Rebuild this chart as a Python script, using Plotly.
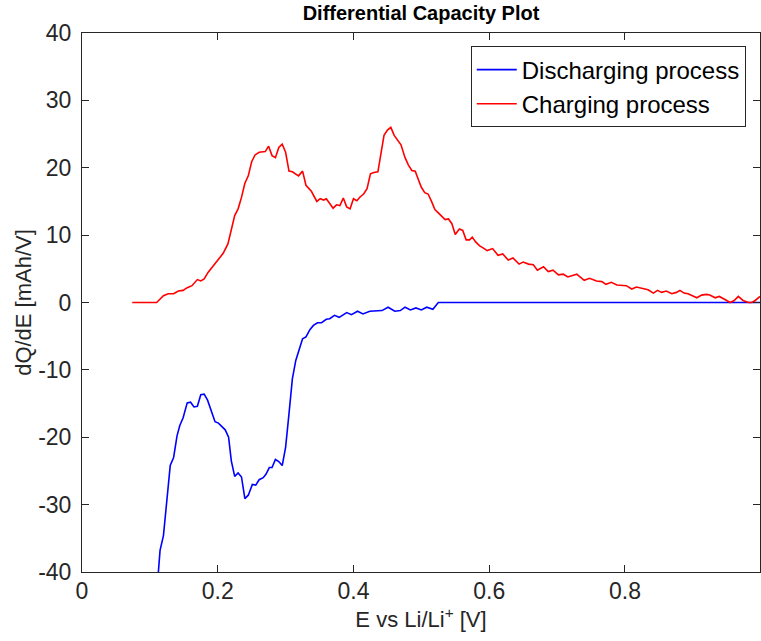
import plotly.graph_objects as go

# Charging process (red)
charge_E = [0.074, 0.110, 0.120, 0.127, 0.135, 0.142, 0.149, 0.155, 0.162, 0.170, 0.175, 0.180,
            0.186, 0.196, 0.208, 0.215, 0.220, 0.225, 0.230, 0.235, 0.240, 0.245, 0.250, 0.255,
            0.261, 0.270, 0.275, 0.280, 0.285, 0.290, 0.295, 0.300, 0.305, 0.310, 0.319, 0.325,
            0.330, 0.338, 0.346, 0.351, 0.356, 0.360, 0.370, 0.375, 0.380, 0.385, 0.390, 0.395,
            0.400, 0.405, 0.410, 0.415, 0.420, 0.425, 0.430, 0.436, 0.440, 0.445, 0.450, 0.455,
            0.460, 0.465, 0.470, 0.476, 0.481, 0.486, 0.491, 0.495, 0.500, 0.505, 0.510, 0.515,
            0.520, 0.525, 0.530, 0.535, 0.540, 0.545, 0.550, 0.556, 0.561, 0.566, 0.571, 0.575,
            0.580, 0.586, 0.591, 0.597, 0.605, 0.613, 0.620, 0.628, 0.635, 0.644, 0.650, 0.658,
            0.665, 0.671, 0.680, 0.687, 0.694, 0.702, 0.709, 0.716, 0.729, 0.740, 0.748, 0.758,
            0.766, 0.772, 0.780, 0.788, 0.802, 0.810, 0.817, 0.827, 0.834, 0.842, 0.848, 0.854,
            0.861, 0.869, 0.876, 0.881, 0.887, 0.893, 0.900, 0.906, 0.913, 0.920, 0.925, 0.933,
            0.939, 0.945, 0.950, 0.955, 0.961, 0.967, 0.974, 0.982, 0.987, 0.992, 0.999]
charge_dQ = [0, 0, 1.0, 1.3, 1.3, 1.7, 1.8, 2.2, 2.5, 3.4, 3.2, 3.5,
             4.5, 5.8, 7.3, 8.7, 10.9, 12.9, 13.9, 15.6, 17.7, 18.8, 20.9, 21.9,
             22.3, 22.4, 23.2, 21.8, 21.5, 23.0, 23.5, 22.3, 19.5, 19.4, 18.8, 19.5,
             17.4, 16.5, 15.0, 15.4, 15.2, 15.4, 14.0, 14.5, 14.4, 15.5, 14.2, 13.9,
             15.4, 15.1, 15.7, 16.1, 16.9, 19.1, 19.3, 19.4, 21.8, 24.8, 25.6, 26.0,
             24.8, 24.1, 23.4, 21.5, 20.4, 19.6, 19.5, 18.4, 17.1, 16.3, 16.1, 15.0,
             13.8, 13.3, 12.8, 12.3, 12.4, 11.7, 10.1, 10.9, 10.7, 9.3, 9.3, 9.7,
             9.0, 8.4, 8.1, 7.7, 8.0, 7.0, 7.2, 6.3, 6.6, 5.7, 6.0, 5.7,
             5.6, 4.8, 5.3, 4.6, 4.8, 4.1, 4.2, 3.8, 4.2, 3.3, 3.6, 3.2,
             3.1, 2.7, 3.0, 2.6, 2.5, 2.0, 2.3, 2.0, 1.9, 1.4, 1.8, 1.5,
             1.7, 1.3, 1.5, 1.8, 1.4, 1.3, 1.0, 0.7, 1.1, 1.2, 1.1, 0.7,
             0.9, 0.5, 0.3, 0, 0.3, 0.9, 0.3, 0, 0, 0.3, 0.9]

# Discharging process (blue)
discharge_E = [0.111, 0.113, 0.115, 0.120, 0.124, 0.130, 0.135, 0.140, 0.144, 0.149, 0.155, 0.160,
               0.165, 0.170, 0.175, 0.180, 0.185, 0.190, 0.196, 0.201, 0.206, 0.211, 0.216, 0.220,
               0.225, 0.230, 0.235, 0.240, 0.245, 0.251, 0.256, 0.261, 0.267, 0.271, 0.276, 0.280,
               0.285, 0.290, 0.295, 0.300, 0.305, 0.310, 0.315, 0.320, 0.325, 0.330, 0.336, 0.341,
               0.347, 0.353, 0.360, 0.365, 0.372, 0.379, 0.390, 0.397, 0.406, 0.414, 0.424, 0.442,
               0.451, 0.461, 0.469, 0.476, 0.484, 0.492, 0.500, 0.508, 0.517, 0.525, 0.999]
discharge_dQ = [-42.0, -39.7, -36.8, -34.6, -30.7, -24.2, -23.0, -19.8, -18.3, -17.1, -14.9, -14.8,
                -15.5, -15.4, -13.7, -13.6, -14.5, -16.0, -17.7, -17.9, -18.4, -18.9, -20.0, -23.5,
                -25.8, -25.3, -25.9, -29.1, -28.6, -27.0, -27.1, -26.3, -26.0, -25.5, -24.5, -24.5,
                -23.3, -23.6, -24.2, -21.5, -16.5, -11.3, -8.6, -6.9, -5.4, -5.1, -4.0, -3.4,
                -3.0, -3.0, -2.5, -2.4, -1.9, -2.2, -1.5, -1.8, -1.3, -1.7, -1.3, -1.2,
                -0.7, -1.3, -1.2, -0.7, -1.1, -0.8, -1.1, -0.7, -1.0, 0, 0]

x_ticks = [0, 0.2, 0.4, 0.6, 0.8]
x_tick_labels = ["0", "0.2", "0.4", "0.6", "0.8"]
y_ticks = [-40, -30, -20, -10, 0, 10, 20, 30, 40]
y_tick_labels = ["-40", "-30", "-20", "-10", "0", "10", "20", "30", "40"]

FONT = "Liberation Sans, Arial, Helvetica, sans-serif"
AX = "#262626"

fig = go.Figure()
fig.add_trace(go.Scatter(x=discharge_E, y=discharge_dQ, mode="lines",
                         name="Discharging process",
                         line=dict(color="#0000FF", width=1.6)))
fig.add_trace(go.Scatter(x=charge_E, y=charge_dQ, mode="lines",
                         name="Charging process",
                         line=dict(color="#FF0000", width=1.6)))

axis_common = dict(showgrid=False, zeroline=False, showline=True, linecolor=AX,
                   linewidth=1, mirror="ticks", ticks="inside", ticklen=7,
                   tickcolor=AX, tickwidth=1, automargin=False,
                   tickfont=dict(family=FONT, size=23, color=AX))

fig.update_xaxes(range=[0, 0.999], tickvals=x_ticks, ticktext=x_tick_labels,
                 ticklabelstandoff=-2,
                 title=dict(text="E vs Li/Li<sup>+</sup> [V]",
                            font=dict(family=FONT, size=22, color=AX), standoff=2),
                 **axis_common)
fig.update_yaxes(range=[-40, 40], tickvals=y_ticks, ticktext=y_tick_labels,
                 ticklabelstandoff=5,
                 title=dict(text="dQ/dE [mAh/V]",
                            font=dict(family=FONT, size=22, color=AX), standoff=0),
                 **axis_common)

fig.update_layout(
    width=761, height=641,
    margin=dict(l=82, r=1, t=33, b=69),
    paper_bgcolor="white", plot_bgcolor="white",
    title=dict(text="<b>Differential Capacity Plot</b>", x=0.5, xref="paper",
               xanchor="center", y=0.98, yanchor="middle", yref="container",
               font=dict(family=FONT, size=20, color="black")),
    legend=dict(x=0.979, xanchor="right", y=0.975, yanchor="top",
                bgcolor="white", bordercolor=AX, borderwidth=1,
                font=dict(family=FONT, size=24, color="black"),
                tracegroupgap=0, itemwidth=40),
    showlegend=True,
)

# remove the default page margin so the figure fills the window exactly
fig.write_html("out.html",
               config={"displayModeBar": False, "staticPlot": True},
               post_script="document.body.style.margin='0';document.body.style.overflow='hidden';")
